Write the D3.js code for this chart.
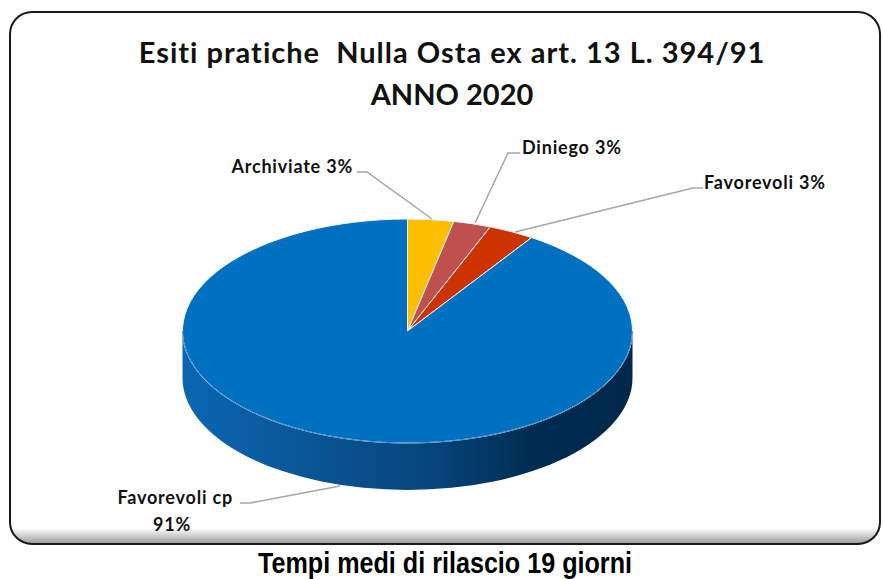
<!DOCTYPE html>
<html>
<head>
<meta charset="utf-8">
<script src="https://cdn.jsdelivr.net/npm/d3@7"></script>
<style>
  body { margin: 0; background: #fff; }
  svg { display: block; }
  text { white-space: pre; }
</style>
</head>
<body>
<svg id="chart" width="883" height="579"></svg>
<script>
// data (percent shares, clockwise from 12 o'clock)
const categories = ["Archiviate", "Diniego", "Favorevoli", "Favorevoli cp"];
const shares = [3.3, 2.7, 3.3, 90.7];
const labels = ["Archiviate 3%", "Diniego 3%", "Favorevoli 3%", "Favorevoli cp|91%"];
const topColors = ["#FBBF00", "#C0504D", "#CC3300", "#0070C0"];
const titleLines = ["Esiti pratiche  Nulla Osta ex art. 13 L. 394/91", "ANNO 2020"];
const caption = "Tempi medi di rilascio 19 giorni";

const W = 883, H = 579;
const svg = d3.select("#chart");

// pie geometry (ellipse seen from above, with a thickness)
const cx = 407.5, cy = 331, rx = 225, ry = 112, depth = 47;

function pt(a, dy) {
    return [cx + rx * Math.sin(a), cy - ry * Math.cos(a) + (dy || 0)];
}

const defs = svg.append("defs");

// shade at the bottom of the frame
let shade = defs.append("linearGradient").attr("id", "frameShade")
    .attr("x1", 0).attr("y1", 0).attr("x2", 0).attr("y2", 1);
shade.append("stop").attr("offset", "0%").attr("stop-color", "#fff");
shade.append("stop").attr("offset", "100%").attr("stop-color", "#9a9a9a");

let sideGrad = defs.append("linearGradient").attr("id", "sideGrad")
    .attr("gradientUnits", "userSpaceOnUse")
    .attr("x1", cx - rx).attr("y1", 0).attr("x2", cx + rx).attr("y2", 0);
sideGrad.append("stop").attr("offset", "0%").attr("stop-color", "#0b66b3");
sideGrad.append("stop").attr("offset", "25%").attr("stop-color", "#0b5799");
sideGrad.append("stop").attr("offset", "55%").attr("stop-color", "#06457c");
sideGrad.append("stop").attr("offset", "78%").attr("stop-color", "#002c50");
sideGrad.append("stop").attr("offset", "100%").attr("stop-color", "#00284a");

// frame
let clip = defs.append("clipPath").attr("id", "frameClip");
clip.append("rect").attr("x", 10).attr("y", 12).attr("width", 870).attr("height", 532).attr("rx", 22);

svg.append("rect")
    .attr("x", 10).attr("y", 12).attr("width", 870).attr("height", 532).attr("rx", 22)
    .attr("fill", "#fff");
svg.append("rect")
    .attr("clip-path", "url(#frameClip)")
    .attr("x", 10).attr("y", 528).attr("width", 870).attr("height", 16)
    .attr("fill", "url(#frameShade)");
svg.append("rect")
    .attr("x", 10).attr("y", 12).attr("width", 870).attr("height", 532).attr("rx", 22)
    .attr("fill", "none").attr("stroke", "#1a1a1a").attr("stroke-width", 2);

// title
svg.append("text")
    .attr("text-anchor", "middle")
    .attr("font-family", "Lato, 'Open Sans', sans-serif")
    .attr("font-weight", "bold")
    .attr("font-size", 29)
    .attr("fill", "#111")
    .selectAll("tspan").data(titleLines).join("tspan")
    .attr("x", 452)
    .attr("y", (d, i) => 63 + i * 42)
    .attr("letter-spacing", (d, i) => i === 0 ? 1 : 0)
    .text(d => d);

const arcs = d3.pie().sort(null).startAngle(0).endAngle(2 * Math.PI)(shares);

// side walls (only the front half, pi/2 .. 3pi/2, can be seen)
const g = svg.append("g");
arcs.forEach(function(d, i) {
    let s = Math.max(d.startAngle, Math.PI / 2);
    let e = Math.min(d.endAngle, 3 * Math.PI / 2);
    if (e <= s) return;
    let p0 = pt(s), p1 = pt(e), p2 = pt(e, depth), p3 = pt(s, depth);
    let large = (e - s) > Math.PI ? 1 : 0;
    g.append("path")
        .attr("d", `M${p0}A${rx},${ry} 0 ${large} 1 ${p1}L${p2}A${rx},${ry} 0 ${large} 0 ${p3}Z`)
        .attr("fill", i === 3 ? "url(#sideGrad)" : d3.color(topColors[i]).darker(1.2));
});

// top faces
g.selectAll("path.top").data(arcs).join("path")
    .attr("class", "top")
    .attr("d", function(d) {
        let p0 = pt(d.startAngle), p1 = pt(d.endAngle);
        let large = (d.endAngle - d.startAngle) > Math.PI ? 1 : 0;
        return `M${cx},${cy}L${p0}A${rx},${ry} 0 ${large} 1 ${p1}Z`;
    })
    .attr("fill", (d, i) => topColors[i])
    .attr("stroke", "#f4f4f4")
    .attr("stroke-width", 1)
    .attr("stroke-linejoin", "round");

// rim highlight along the front edge
g.append("path")
    .attr("d", `M${pt(Math.PI / 2)}A${rx},${ry} 0 0 1 ${pt(3 * Math.PI / 2)}`)
    .attr("fill", "none").attr("stroke", "#3f8ad0").attr("stroke-width", 1);

// leader lines and labels
const leaders = [
    {pts: [[357, 172], [367, 172], [432, 219]], tx: 353, ty: 172, anchor: "end"},
    {pts: [[520, 153], [508, 153], [475, 223]], tx: 522, ty: 153, anchor: "start"},
    {pts: [[703, 188], [693, 188], [515, 232]], tx: 704, ty: 188, anchor: "start"},
    {pts: [[240, 503], [250, 503], [340, 486]], tx: 233, ty: 503, anchor: "end"}
];

svg.selectAll("path.leader").data(leaders).join("path")
    .attr("class", "leader")
    .attr("d", d => d3.line()(d.pts))
    .attr("fill", "none")
    .attr("stroke", "#a6a6a6")
    .attr("stroke-width", 1.5);

leaders.forEach(function(l, i) {
    let parts = labels[i].split("|");
    let t = svg.append("text")
        .attr("font-family", "Lato, 'Open Sans', sans-serif")
        .attr("font-weight", "bold")
        .attr("font-size", 18)
        .attr("letter-spacing", 0.8)
        .attr("fill", "#111");
    if (parts.length === 1) {
        t.attr("x", l.tx).attr("y", l.ty + 1).attr("text-anchor", l.anchor).text(parts[0]);
    } else {
        t.append("tspan").attr("x", l.tx).attr("y", l.ty + 1).attr("text-anchor", "end").text(parts[0]);
        t.append("tspan").attr("x", 172).attr("y", l.ty + 28).attr("text-anchor", "middle").text(parts[1]);
    }
});

// caption under the frame
svg.append("text")
    .attr("x", 445).attr("y", 573)
    .attr("text-anchor", "middle")
    .attr("font-family", "'Liberation Sans Narrow', 'Liberation Sans', Arial, sans-serif")
    .attr("font-weight", "bold")
    .attr("font-size", 30)
    .attr("textLength", 374)
    .attr("lengthAdjust", "spacingAndGlyphs")
    .attr("fill", "#000")
    .text(caption);
</script>
</body>
</html>
